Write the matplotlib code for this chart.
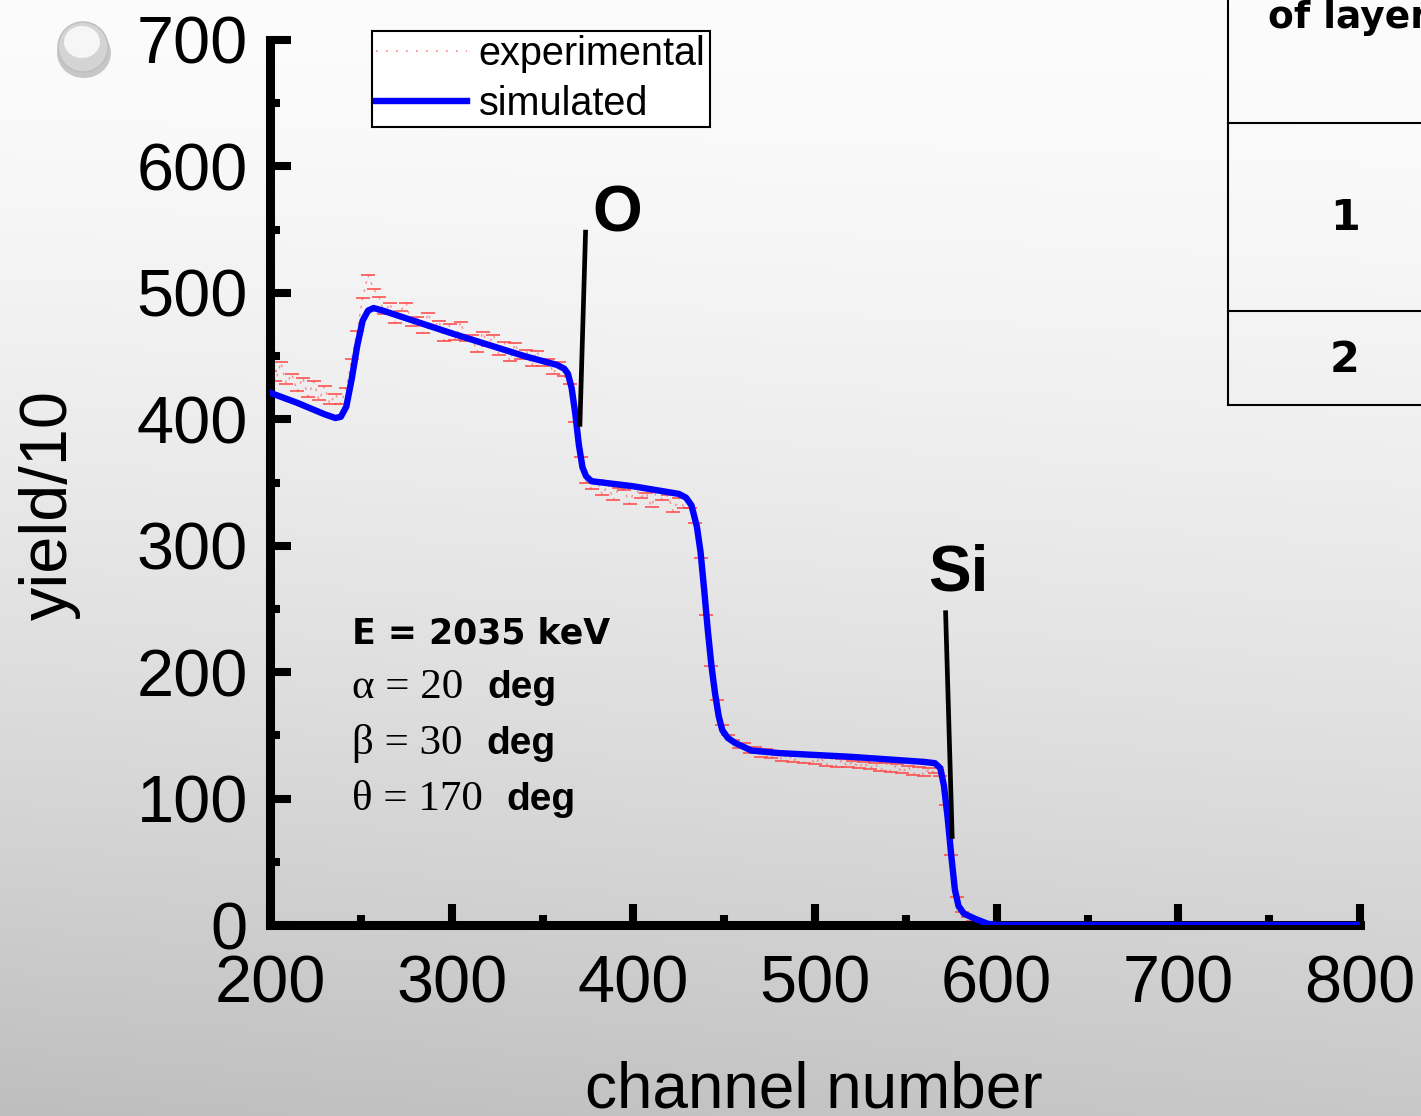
"""
plot.py

RBS spectrum: experimental vs simulated yield over channel number,
redrawn on a grey slide-style background with the clipped layer table.
"""

import numpy as np
import matplotlib.pyplot as plt
from matplotlib.lines import Line2D
from matplotlib.patches import Ellipse
from matplotlib.ticker import MultipleLocator

W, H = 1421, 1116

# simulated spectrum (channel, yield/10)
sim_channel = [200, 215, 230, 236, 239, 242, 245, 248, 251, 254, 257, 262, 300, 340,
               358, 362, 364, 366, 368, 370, 372, 374, 377, 400, 425, 429, 432, 435,
               437, 439, 441, 443, 445, 447, 449, 452, 456, 465, 480, 520, 560, 566,
               569, 571, 573, 575, 577, 579, 582, 588, 595, 600, 800]
sim_yield = [421, 413, 404, 401, 402, 410, 432, 458, 478, 486, 488, 486, 468, 450,
             443, 440, 436, 425, 405, 380, 362, 355, 351, 347, 341, 338, 332, 315,
             295, 265, 233, 205, 183, 165, 154, 148, 144, 138, 136, 133, 129, 128,
             124, 110, 85, 55, 28, 15, 9, 5, 1, 0, 0]

# experimental spectrum, every 3rd channel from 200
exp_channel = np.arange(200, 600, 3)
exp_yield = [438, 430, 445, 428, 436, 422, 433, 418, 430, 415, 426, 412, 420,
             412, 425, 448, 470, 496, 514, 503,
             497, 483, 492, 476, 486, 492, 474, 481, 468, 484, 472, 478, 462, 475,
             463, 477, 462, 467, 453, 469, 458, 467, 451, 461, 446, 460, 448, 455,
             442, 454, 442, 448, 436, 445, 434,
             428, 398, 370, 350, 345,
             352, 340, 349, 336, 346, 344, 333, 347, 338, 342, 331, 345, 336, 340,
             327, 338, 330,
             330, 318, 290, 245, 205, 178, 158, 150, 146,
             140, 144, 136, 141, 133, 139, 132, 138, 130, 136, 129, 135, 128, 134,
             127, 133, 126, 132, 125, 131, 125, 130, 124, 129, 123, 128, 122, 128,
             121, 127, 120, 126, 119, 125, 118, 124, 120,
             118, 95, 55, 22, 10, 6, 3, 2, 1, 0, 0]

# peak labels with their marker lines
peak_labels = ["O", "Si"]
peak_label_pos = [(391, 562), (579, 278)]
peak_lines = [((373.7, 370.6), (548, 396)), ((571.9, 575.5), (247, 70))]

# measurement conditions
cond_head = "E = 2035 keV"
cond_serif = ["\u03b1 = 20", "\u03b2 = 30", "\u03b8 = 170"]
cond_unit = "deg"

# clipped table on the right
table_header = "of layer"
table_rows = ["1", "2"]

plt.rcParams["font.family"] = ["Liberation Sans", "DejaVu Sans"]

fig = plt.figure(figsize=(W / 100, H / 100), dpi=100)

# slide background: light at the top, grey towards the bottom-left
yy, xx = np.mgrid[0:1:300j, 0:1:300j]
g = 252 - 52 * yy ** 1.5 - 10 * (1 - xx) * yy
bg = fig.add_axes([0, 0, 1, 1], zorder=0)
bg.imshow(np.dstack([g, g, g]) / 255, aspect="auto", extent=[0, 1, 0, 1], origin="upper")
bg.axis("off")

# glossy bullet top-left
fig.add_artist(Ellipse((84 / W, 1 - 53 / H), 54 / W, 50 / H, transform=fig.transFigure,
                       fc="#8a8a8a", ec="none", alpha=0.45, zorder=2))
fig.add_artist(Ellipse((83 / W, 1 - 47 / H), 50 / W, 50 / H, transform=fig.transFigure,
                       fc="#d4d4d4", ec="#bdbdbd", lw=1, zorder=2))
fig.add_artist(Ellipse((82 / W, 1 - 42 / H), 36 / W, 32 / H, transform=fig.transFigure,
                       fc="#f6f6f6", ec="none", zorder=2))

ax = fig.add_axes([270 / W, 1 - 925 / H, 1090 / W, 885 / H], zorder=1)
ax.set_facecolor("none")

ax.plot(exp_channel, exp_yield, color="#ff3030", lw=1.0, ls=(0, (2, 4)), alpha=0.5, zorder=2)
ax.plot(exp_channel, exp_yield, ls="none", marker="_", ms=10, mew=1.4,
        color="#ff4848", alpha=0.8, zorder=2)
ax.plot(sim_channel, sim_yield, color="#0000ff", lw=4.6, zorder=3,
        solid_joinstyle="round", solid_capstyle="round")

ax.set_xlim(200, 800)
ax.set_ylim(0, 700)
ax.xaxis.set_major_locator(MultipleLocator(100))
ax.xaxis.set_minor_locator(MultipleLocator(50))
ax.yaxis.set_major_locator(MultipleLocator(100))
ax.yaxis.set_minor_locator(MultipleLocator(50))
for side in ["top", "right"]:
    ax.spines[side].set_visible(False)
for side in ["left", "bottom"]:
    ax.spines[side].set_linewidth(6.5)
ax.tick_params(which="major", direction="in", length=15, width=5.8, labelsize=48)
ax.tick_params(which="minor", direction="in", length=7.5, width=5.8)
ax.tick_params(axis="x", which="major", pad=21)
ax.tick_params(axis="y", which="major", pad=16)

fig.text(50 / W, 1 - 505 / H, "yield/10", rotation=90, ha="center", va="center", fontsize=48)
fig.text(814 / W, 1 - 1107 / H, "channel number", ha="center", va="baseline", fontsize=46)

# legend
handles = [Line2D([], [], color="#ff3030", lw=1.2, ls=(0, (1, 5)), alpha=0.6),
           Line2D([], [], color="#0000ff", lw=4.6)]
leg = ax.legend(handles, ["experimental", "simulated"], loc="upper left",
                bbox_to_anchor=(372 / W, 1 - 31 / H), bbox_transform=fig.transFigure,
                fontsize=28.5, fancybox=False, edgecolor="black", framealpha=1,
                handlelength=2.3, handletextpad=0.3,
                labelspacing=0.3, borderpad=0.1, borderaxespad=0)
leg.get_frame().set_facecolor((1, 1, 1, 0.4))
leg.get_frame().set_linewidth(1.5)

# peak markers
for label, (lx, ly), (px, py) in zip(peak_labels, peak_label_pos, peak_lines):
    ax.text(lx, ly, label, ha="center", va="center", fontsize=46, fontweight="bold")
    ax.plot(px, py, color="black", lw=3.4, zorder=4, clip_on=False)

# conditions block
ax.text(245.1, 223, cond_head, fontsize=25, fontweight="bold",
        family="DejaVu Sans", va="baseline")
renderer = fig.canvas.get_renderer()
for i, s in enumerate(cond_serif):
    yb = 179.6 - 44.2 * i
    t = ax.text(245.1, yb, s, fontsize=31, family="Liberation Serif", va="baseline")
    x1 = t.get_window_extent(renderer).x1 + 24
    x_end = ax.transData.inverted().transform((x1, 0))[0]
    ax.text(x_end, yb, cond_unit, fontsize=28, fontweight="bold", va="baseline")

# table fragment
tl = dict(color="black", lw=1.5, transform=fig.transFigure)
fig.add_artist(Line2D([1228 / W, 1228 / W], [1, 1 - 405 / H], **tl))
for yrow in (123, 311, 405):
    fig.add_artist(Line2D([1228 / W, 1], [1 - yrow / H, 1 - yrow / H], **tl))
fig.text(1268 / W, 1 - 28 / H, table_header, fontsize=27, fontweight="bold",
         family="DejaVu Sans", va="baseline")
for label, yc in zip(table_rows, (218, 360)):
    fig.text(1345 / W, 1 - yc / H, label, fontsize=31, fontweight="bold",
             family="DejaVu Sans", ha="center", va="center")

fig.savefig("out.png", dpi=100)
